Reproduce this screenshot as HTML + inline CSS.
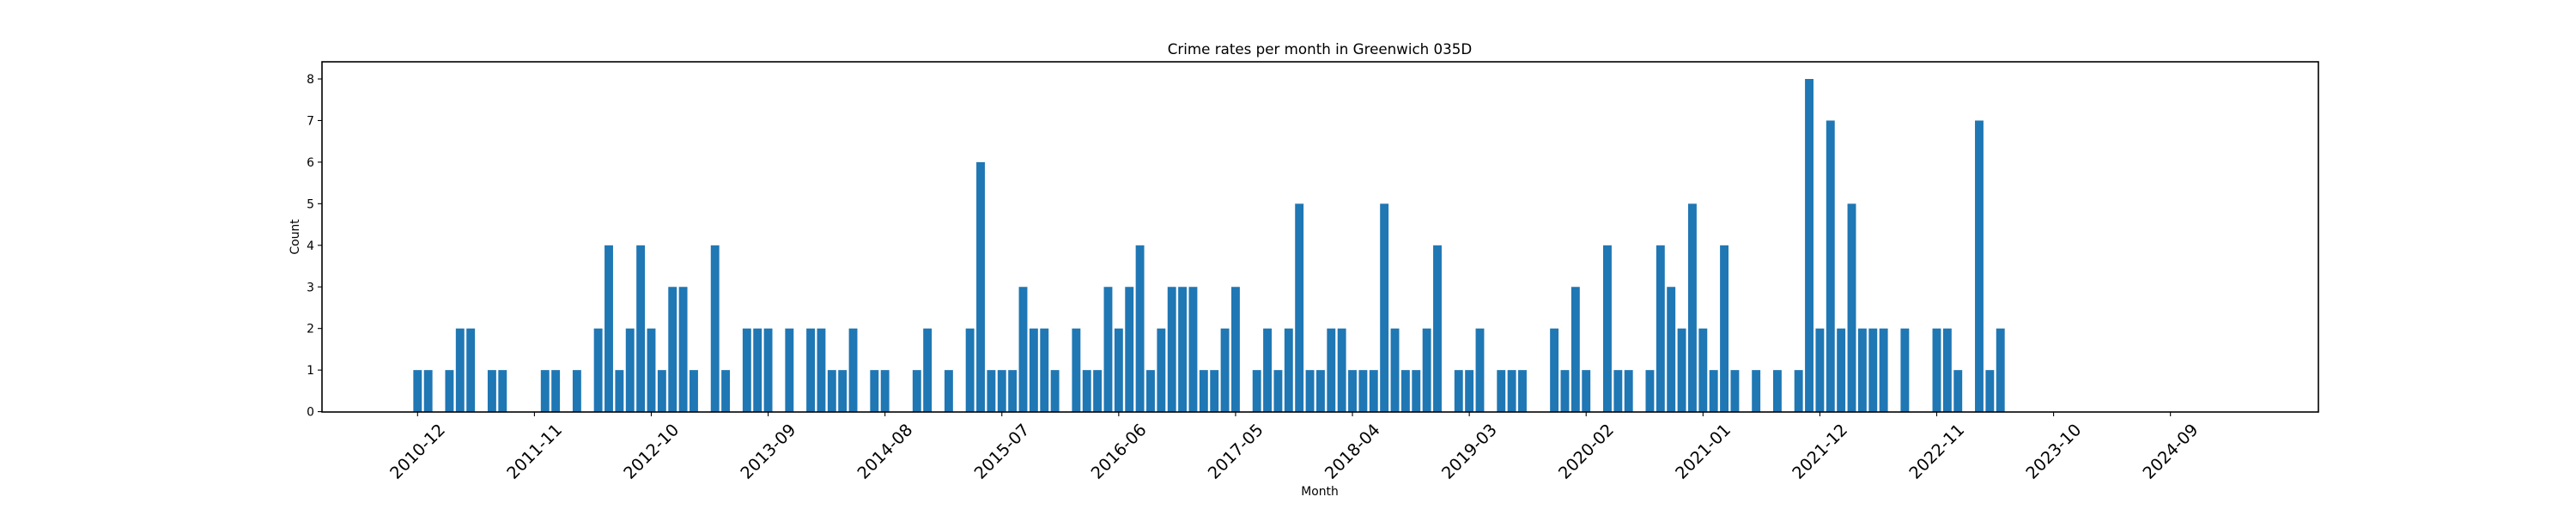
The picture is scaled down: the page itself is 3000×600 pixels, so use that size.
<!DOCTYPE html>
<html><head><meta charset="utf-8"><style>
html,body{margin:0;padding:0;background:#fff;}
svg{display:block;font-family:"DejaVu Sans","Liberation Sans",sans-serif;}
</style></head><body>
<svg id="chart" width="3000" height="600" viewBox="0 0 3000 600" xmlns="http://www.w3.org/2000/svg">
<rect x="0" y="0" width="3000" height="600" fill="#fff"/>
<text x="1537" y="63" font-size="16.7" text-anchor="middle" fill="#000">Crime rates per month in Greenwich 035D</text>
<text x="1537" y="577" font-size="13.9" text-anchor="middle" fill="#000">Month</text>
<text x="0" y="0" font-size="13.9" text-anchor="middle" fill="#000" transform="translate(348,276) rotate(-90)">Count</text>
<g id="bars"></g>
<g id="yticks"></g>
<g id="xticks"></g>
<rect x="375" y="72" width="2325" height="408" fill="none" stroke="#000" stroke-width="1.6"/>
</svg>
<script>
const monthIdx = [0,1,3,4,5,7,8,12,13,15,17,18,19,20,21,22,23,24,25,26,28,29,31,32,33,35,37,38,39,40,41,43,44,47,48,50,52,53,54,55,56,57,58,59,60,62,63,64,65,66,67,68,69,70,71,72,73,74,75,76,77,79,80,81,82,83,84,85,86,87,88,89,90,91,92,93,94,95,96,98,99,100,102,103,104,107,108,109,110,112,113,114,116,117,118,119,120,121,122,123,124,126,128,130,131,132,133,134,135,136,137,138,140,143,144,145,147,148,149];
const counts = [1,1,1,2,2,1,1,1,1,1,2,4,1,2,4,2,1,3,3,1,4,1,2,2,2,2,2,2,1,1,2,1,1,1,2,1,2,6,1,1,1,3,2,2,1,2,1,1,3,2,3,4,1,2,3,3,3,1,1,2,3,1,2,1,2,5,1,1,2,2,1,1,1,5,2,1,1,2,4,1,1,2,1,1,1,2,1,3,1,4,1,1,1,4,3,2,5,2,1,4,1,1,1,1,8,2,7,2,5,2,2,2,2,2,2,1,7,1,2];
const xTickIdx = [0,11,22,33,44,55,66,77,88,99,110,121,132,143,154,165];
const xTickLabels = ["2010-12","2011-11","2012-10","2013-09","2014-08","2015-07","2016-06","2017-05","2018-04","2019-03","2020-02","2021-01","2021-12","2022-11","2023-10","2024-09"];
const yTicks = [0,1,2,3,4,5,6,7,8];

const NS = "http://www.w3.org/2000/svg";
const X0 = 486.3, STEP = 12.372, Y0 = 479.6, UNIT = 48.45;
function xs(i){ return X0 + i*STEP; }
function ys(v){ return Y0 - v*UNIT; }
const bars = document.getElementById('bars');
monthIdx.forEach((m,k)=>{
  const r = document.createElementNS(NS,'rect');
  const w = STEP*0.8;
  r.setAttribute('x', xs(m)-w/2);
  r.setAttribute('y', ys(counts[k]));
  r.setAttribute('width', w);
  r.setAttribute('height', ys(0)-ys(counts[k]));
  r.setAttribute('fill', '#1f77b4');
  
  
  bars.appendChild(r);
});
const yg = document.getElementById('yticks');
yTicks.forEach(v=>{
  const l = document.createElementNS(NS,'line');
  l.setAttribute('x1',375); l.setAttribute('x2',370); l.setAttribute('y1',ys(v)); l.setAttribute('y2',ys(v));
  l.setAttribute('stroke','#000'); l.setAttribute('stroke-width','1.1');
  
  
  yg.appendChild(l);
  const t = document.createElementNS(NS,'text');
  t.setAttribute('x',366); t.setAttribute('y',ys(v)+5); t.setAttribute('font-size','13.9'); t.setAttribute('text-anchor','end');
  t.textContent = v;
  
  
  yg.appendChild(t);
});
const xg = document.getElementById('xticks');
xTickIdx.forEach((m,k)=>{
  const x = xs(m);
  const l = document.createElementNS(NS,'line');
  l.setAttribute('x1',x); l.setAttribute('x2',x); l.setAttribute('y1',480); l.setAttribute('y2',485);
  l.setAttribute('stroke','#000'); l.setAttribute('stroke-width','1.1');
  
  
  xg.appendChild(l);
  const t = document.createElementNS(NS,'text');
  t.setAttribute('x',0); t.setAttribute('y',0); t.setAttribute('font-size','19.4'); t.setAttribute('text-anchor','middle');
  t.setAttribute('dominant-baseline','central');
  t.setAttribute('transform','translate('+x+',526) rotate(-45)');
  t.textContent = xTickLabels[k];
  
  
  xg.appendChild(t);
});
</script>
</body></html>
